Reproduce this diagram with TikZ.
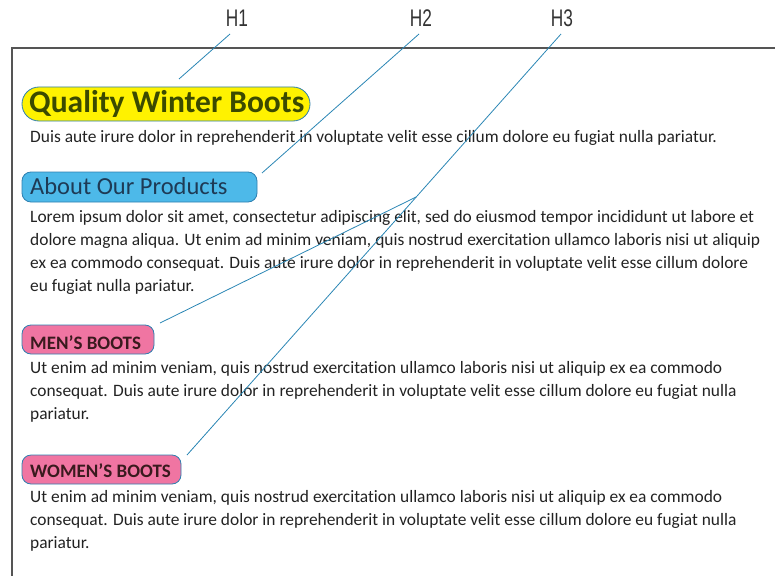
\documentclass[tikz,border=0pt]{standalone}
\usepackage{fontspec}
\usetikzlibrary{calc}
\setmainfont[Ligatures=NoCommon]{Carlito}
\newfontfamily\labelfont{Liberation Sans}
\definecolor{frame}{HTML}{555555}
\definecolor{conn}{HTML}{2A86B4}
\definecolor{hyellow}{HTML}{FFF200}
\definecolor{hblue}{HTML}{4DB9E9}
\definecolor{hpink}{HTML}{F075A2}
\definecolor{hbordr}{HTML}{2E7FB0}
\definecolor{tone}{HTML}{3B4A00}
\definecolor{ttwo}{HTML}{1E3A55}
\definecolor{tthree}{HTML}{3A1A1E}
\definecolor{body}{HTML}{222222}
\begin{document}
\begin{tikzpicture}[x=1pt,y=-1pt,
  bodytext/.style={anchor=base west,inner sep=0pt,text=body,font=\fontsize{17.4}{22.8}\selectfont,align=left},
  toplabel/.style={anchor=base,inner sep=0pt,text=black!80,font=\labelfont\fontsize{24}{24}\selectfont},
  hbox/.style={draw=hbordr,line width=0.8pt,rounded corners=#1},
  conline/.style={draw=conn,line width=0.8pt}]
\useasboundingbox (0,0) rectangle (775,575);
% frame
\draw[frame,line width=2pt] (12,580) -- (12,48) -- (780,48);
% heading boxes
\path[hbox=17,fill=hyellow] (22,87) rectangle (310,121);
\path[hbox=9,fill=hblue] (22,172) rectangle (257,202);
\path[hbox=9,fill=hpink] (22,325) rectangle (154,354);
\path[hbox=9,fill=hpink] (22,455) rectangle (181,484);
% headings
\node[anchor=base west,inner sep=0pt,text=tone,font=\bfseries\fontsize{31.5}{31.5}\selectfont] (h1) at (29,113) {Quality Winter Boots};
\node[anchor=base west,inner sep=0pt,text=ttwo,font=\fontsize{24.5}{24.5}\selectfont] (h2) at (30,194) {About Our Products};
\node[anchor=base west,inner sep=0pt,text=tthree,font=\bfseries\fontsize{19}{19}\selectfont] (h3a) at (30,349) {MEN’S BOOTS};
\node[anchor=base west,inner sep=0pt,text=tthree,font=\bfseries\fontsize{19}{19}\selectfont] (h3b) at (30,477) {WOMEN’S BOOTS};
% body
\node[bodytext] (p1) at (30,142.5) {Duis aute irure dolor in reprehenderit in voluptate velit esse cillum dolore eu fugiat nulla pariatur.};
\node[bodytext] (p2) at (30,291) {Lorem ipsum dolor sit amet, consectetur adipiscing elit, sed do eiusmod tempor incididunt ut labore et\\dolore magna aliqua. Ut enim ad minim veniam, quis nostrud exercitation ullamco laboris nisi ut aliquip\\ex ea commodo consequat. Duis aute irure dolor in reprehenderit in voluptate velit esse cillum dolore\\eu fugiat nulla pariatur.};
\node[bodytext] (p3) at (30,419) {Ut enim ad minim veniam, quis nostrud exercitation ullamco laboris nisi ut aliquip ex ea commodo\\consequat. Duis aute irure dolor in reprehenderit in voluptate velit esse cillum dolore eu fugiat nulla\\pariatur.};
\node[bodytext] (p4) at (30,548) {Ut enim ad minim veniam, quis nostrud exercitation ullamco laboris nisi ut aliquip ex ea commodo\\consequat. Duis aute irure dolor in reprehenderit in voluptate velit esse cillum dolore eu fugiat nulla\\pariatur.};
% top labels
\node[toplabel] (l1) at (237,27) {\scalebox{0.72}[1]{H1}};
\node[toplabel] (l2) at (421,27) {\scalebox{0.72}[1]{H2}};
\node[toplabel] (l3) at (562,27) {\scalebox{0.72}[1]{H3}};
% connectors
\coordinate (e1) at (179,79);
\coordinate (e2) at (262,173);
\coordinate (e3) at (187,455);
\coordinate (e4) at (160,323);
\coordinate (s1) at (230,34);
\coordinate (s2) at (419,34);
\coordinate (s3) at (561,34);
\draw[conline] (s1) -- (e1);
\draw[conline] (s2) -- (e2);
\draw[conline] (s3) -- (e3);
\coordinate (j) at ($(s3)!0.387!(e3)$);
\draw[conline] (j) -- (e4);
\end{tikzpicture}
\end{document}
